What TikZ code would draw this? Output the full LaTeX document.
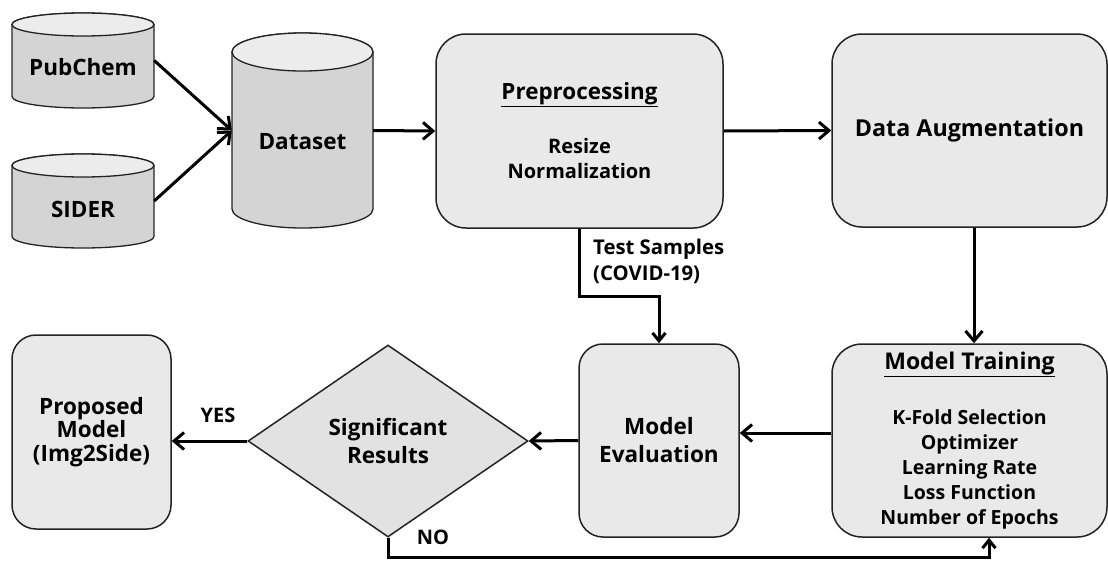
\documentclass[tikz,border=0pt]{standalone}
\usepackage{fontspec}
\setmainfont{Open Sans}
\usetikzlibrary{arrows.meta,shapes.geometric,calc}

\definecolor{boxfill}{RGB}{233,233,233}
\definecolor{drumbody}{RGB}{212,212,212}
\definecolor{drumtop}{RGB}{236,236,236}
\definecolor{decfill}{RGB}{226,226,226}
\definecolor{edge}{RGB}{35,35,35}

\tikzset{
  stage/.style={draw=edge, line width=1.5pt, fill=boxfill, rounded corners=30pt,
    inner sep=0pt, align=center},
  smallstage/.style={stage, rounded corners=24pt},
  decision/.style={diamond, draw=edge, line width=1.5pt, fill=decfill, inner sep=0pt,
    aspect=1.46, align=center},
  drumarea/.style={inner sep=0pt},
  bigtext/.style={font=\bfseries\fontsize{22.5}{28}\selectfont},
  tag/.style={font=\bfseries\fontsize{20}{26}\selectfont, inner sep=0pt},
  flow/.style={line width=3pt, draw=black, -{Straight Barb[length=10pt,width=17pt]}},
}

% A vertical storage drum: name, left x, right x, top y, bottom y, cap half-height
\newcommand\drum[6]{%
  \pgfmathsetmacro\dcx{(#2+#3)/2}%
  \pgfmathsetmacro\drx{(#3-#2)/2}%
  \pgfmathsetmacro\dcy{(#4+#5)/2}%
  \filldraw[fill=drumbody, draw=edge, line width=1.3pt]
    (#2,#4+#6) -- (#2,#5-#6)
    arc[start angle=180, end angle=360, x radius=\drx pt, y radius=#6pt]
    -- (#3,#4+#6)
    arc[start angle=0, end angle=180, x radius=\drx pt, y radius=#6pt] -- cycle;
  \filldraw[fill=drumtop, draw=edge, line width=1.3pt]
    (\dcx,#4+#6) ellipse[x radius=\drx pt, y radius=#6pt];
  \node[drumarea, minimum width={(#3-#2)*1pt}, minimum height={(#5-#4)*1pt}]
    (#1) at (\dcx,\dcy) {};
}

\begin{document}
\begin{tikzpicture}[x=1pt, y=-1pt]
\useasboundingbox (0,0) rectangle (1108,560);

% data sources
\drum{pub}{12}{154}{13}{108}{11.5}
\node[bigtext] (pubtxt) at (83,67) {PubChem};
\drum{sider}{12}{154}{154}{248}{11.5}
\node[bigtext] (sidertxt) at (83,209) {SIDER};
\drum{data}{232}{373}{33}{228}{19}
\node[bigtext] (datatxt) at (302.5,142) {Dataset};

% processing stages
\node[stage, minimum width=287pt, minimum height=194pt,
      font=\bfseries\fontsize{20}{25}\selectfont] (pre) at (579.5,131)
  {{\fontsize{22.4}{25}\selectfont\underline{Preprocessing}}\\[29pt]Resize\\Normalization};
\node[stage, minimum width=275pt, minimum height=193pt,
      font=\bfseries\fontsize{23.3}{28}\selectfont] (aug) at (969.5,130.5)
  {Data Augmentation};
\node[stage, minimum width=275pt, minimum height=193pt,
      font=\bfseries\fontsize{19.5}{25}\selectfont] (train) at (969.5,440.5)
  {{\fontsize{23}{25}\selectfont\underline{Model Training}}\\[30pt]K-Fold Selection\\Optimizer\\Learning Rate\\Loss Function\\Number of Epochs};
\node[smallstage, minimum width=160pt, minimum height=193pt, bigtext] (eval) at (659,440.5)
  {Model\\Evaluation};
\node[decision, minimum width=280pt, minimum height=192pt, bigtext] (dec) at (388,441)
  {Significant\\Results};
\node[smallstage, minimum width=159pt, minimum height=194pt,
      font=\bfseries\fontsize{22.5}{23.5}\selectfont] (prop) at (91.5,432)
  {Proposed\\Model\\(Img2Side)};

% connectors
\draw[flow] (pub.east) -- (data.west);
\draw[flow] (sider.east) -- (data.west);
\draw[flow] (data.east) -- (pre.west);
\draw[flow] (pre.east) -- (aug.west);
\draw[flow] ([xshift=4.5pt]aug.south) -- ([xshift=4.5pt]train.north);
\draw[flow] ([yshift=7.5pt]train.west) -- ([yshift=7.5pt]eval.east);
\draw[flow] (eval.west) -- (dec.east);
\draw[flow] (dec.west) -- (dec.west -| prop.east);
\draw[flow, -{Straight Barb[length=8pt,width=13pt]}] (pre.south) -- ++(0,68) -| (eval.north);
\draw[flow, -{Straight Barb[length=8pt,width=13pt]}] (dec.south) -- ++(0,20) -| ([xshift=19.5pt]train.south);

% branch labels
\node[tag, font=\bfseries\fontsize{20.3}{26}\selectfont, anchor=west, align=left] (testtxt) at (593,261)
  {Test Samples\\(COVID-19)};
\node[tag] (yes) at (218,415) {YES};
\node[tag] (no) at (433,537) {NO};
\end{tikzpicture}
\end{document}
